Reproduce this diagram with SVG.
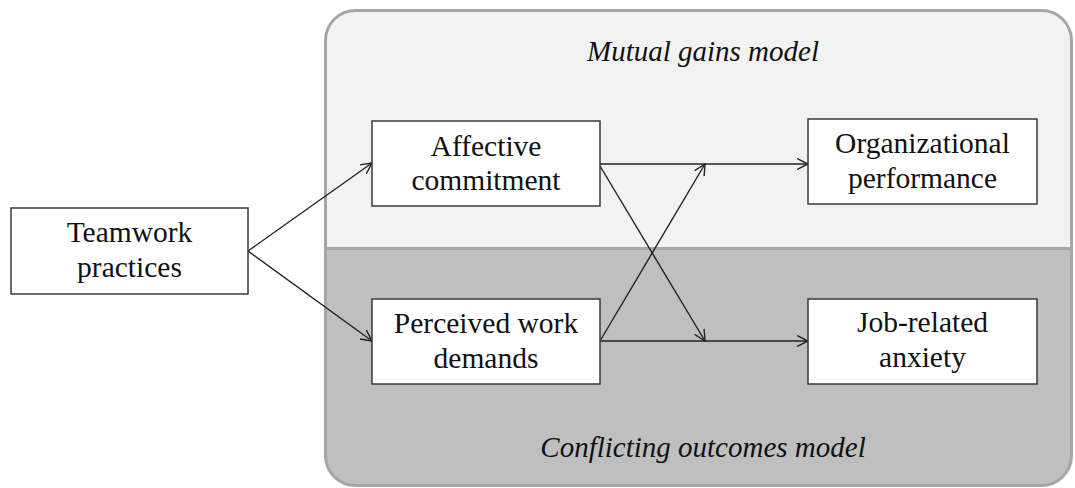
<svg xmlns="http://www.w3.org/2000/svg" width="1075" height="488" viewBox="0 0 1075 488">
<style>
.box{fill:#fff;stroke:#3a3a3a;stroke-width:1.5}
.lbl{font-family:"Liberation Serif","Times New Roman",serif;font-size:29.5px;fill:#111;text-anchor:middle}
.ttl{font-family:"Liberation Serif","Times New Roman",serif;font-size:29px;font-style:italic;fill:#111;text-anchor:middle}
.con{stroke:#222;stroke-width:1.4;fill:none;marker-end:url(#arr)}
</style>
<defs>
<marker id="arr" markerUnits="userSpaceOnUse" markerWidth="14" markerHeight="12" refX="11" refY="6" orient="auto">
<path d="M0,0.5 L11,6 L0,11.5" fill="none" stroke="#222" stroke-width="1.4"/>
</marker>
<clipPath id="panelClip"><rect x="325.5" y="10.5" width="746" height="475" rx="30" ry="30"/></clipPath>
</defs>
<g id="panel">
<g clip-path="url(#panelClip)">
<rect x="325" y="10" width="748" height="239" fill="#f2f2f2"/>
<rect x="325" y="248" width="748" height="240" fill="#bfbfbf"/>
<line x1="325" y1="248.5" x2="1073" y2="248.5" stroke="#a6a6a6" stroke-width="3"/>
</g>
<rect x="325.5" y="10.5" width="746" height="475" rx="30" ry="30" fill="none" stroke="#a6a6a6" stroke-width="3"/>
<text class="ttl" x="703" y="61">Mutual gains model</text>
<text class="ttl" x="703" y="457">Conflicting outcomes model</text>
</g>
<g id="connectors">
<line class="con" x1="248" y1="251" x2="372" y2="163"/>
<line class="con" x1="248" y1="251" x2="372" y2="341"/>
<line class="con" x1="600" y1="164" x2="808" y2="164"/>
<line class="con" x1="600" y1="166" x2="705" y2="341"/>
<line class="con" x1="600" y1="341" x2="705" y2="164"/>
<line class="con" x1="600" y1="341" x2="808" y2="341"/>
</g>
<g id="teamwork">
<rect class="box" x="11" y="208" width="237" height="86"/>
<text class="lbl" x="129.5" y="242">Teamwork</text>
<text class="lbl" x="129.5" y="277">practices</text>
</g>
<g id="affective">
<rect class="box" x="372" y="121" width="228" height="85"/>
<text class="lbl" x="486" y="156">Affective</text>
<text class="lbl" x="486" y="190">commitment</text>
</g>
<g id="perceived">
<rect class="box" x="372" y="299" width="228" height="85"/>
<text class="lbl" x="486" y="333">Perceived work</text>
<text class="lbl" x="486" y="368">demands</text>
</g>
<g id="organizational">
<rect class="box" x="808" y="119" width="229" height="85"/>
<text class="lbl" x="922.5" y="153">Organizational</text>
<text class="lbl" x="922.5" y="188">performance</text>
</g>
<g id="jobanxiety">
<rect class="box" x="808" y="299" width="229" height="85"/>
<text class="lbl" x="922.5" y="332">Job-related</text>
<text class="lbl" x="922.5" y="367">anxiety</text>
</g>
</svg>
